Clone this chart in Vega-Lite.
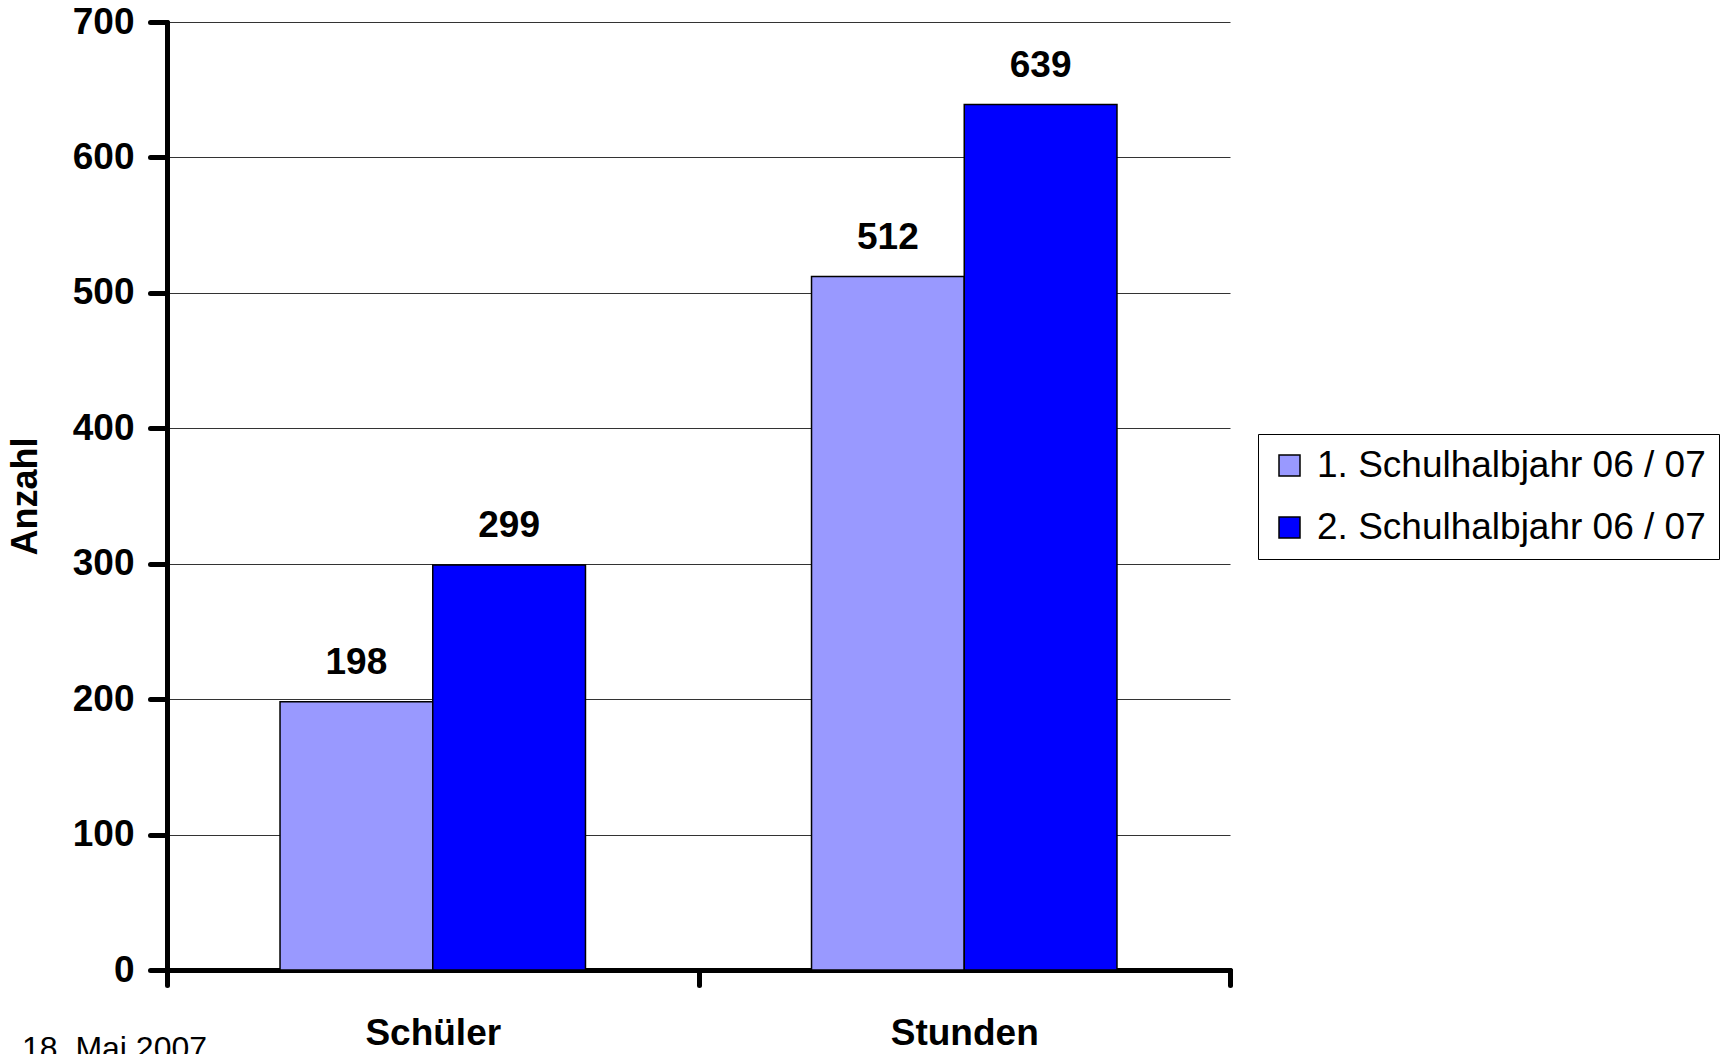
{
  "$schema": "https://vega.github.io/schema/vega-lite/v6.json",
  "autosize": {"type": "none"},
  "padding": {"left": 167, "top": 22, "right": 495, "bottom": 84},
  "width": 1063,
  "height": 948,
  "background": "white",
  "title": {"text": "18. Mai 2007", "orient": "bottom", "anchor": "start", "frame": "group", "dx": -145, "dy": -17, "offset": 0, "fontSize": 32, "fontWeight": "normal", "font": "Liberation Sans", "color": "#000"},
  "data": {"values": [
    {"kategorie": "Schüler", "halbjahr": "1. Schulhalbjahr 06 / 07", "anzahl": 198},
    {"kategorie": "Schüler", "halbjahr": "2. Schulhalbjahr 06 / 07", "anzahl": 299},
    {"kategorie": "Stunden", "halbjahr": "1. Schulhalbjahr 06 / 07", "anzahl": 512},
    {"kategorie": "Stunden", "halbjahr": "2. Schulhalbjahr 06 / 07", "anzahl": 639}
  ]},
  "encoding": {
    "x": {"field": "kategorie", "type": "nominal", "sort": null,
      "scale": {"paddingInner": 0, "paddingOuter": 0},
      "axis": {"title": null, "labelAngle": 0, "labelFontSize": 37, "labelFontWeight": "bold", "labelFont": "Liberation Sans", "labelColor": "#000",
        "domainColor": "#000", "domainWidth": 5, "domainCap": "round", "tickColor": "#000", "tickWidth": 5, "tickCap": "round", "tickSize": 15, "tickBand": "extent", "labelPadding": 30}},
    "xOffset": {"field": "halbjahr", "type": "nominal", "sort": null, "scale": {"paddingInner": 0, "paddingOuter": 0.74}},
    "y": {"field": "anzahl", "type": "quantitative",
      "scale": {"domain": [0, 700], "nice": false},
      "axis": {"title": "Anzahl", "values": [0, 100, 200, 300, 400, 500, 600, 700], "labelFontSize": 37, "labelFontWeight": "bold", "labelFont": "Liberation Sans", "labelColor": "#000",
        "titleFontSize": 36, "titleFontWeight": "bold", "titleFont": "Liberation Sans", "titleColor": "#000", "titlePadding": 28,
        "domainColor": "#000", "domainWidth": 5, "domainCap": "round", "tickColor": "#000", "tickWidth": 5, "tickCap": "round", "tickSize": 17, "labelPadding": 16,
        "grid": true, "gridColor": "#333", "gridWidth": 1}}
  },
  "layer": [
    {"mark": {"type": "bar", "stroke": "#000", "strokeWidth": 1.5},
     "encoding": {"color": {"field": "halbjahr", "type": "nominal",
       "scale": {"domain": ["1. Schulhalbjahr 06 / 07", "2. Schulhalbjahr 06 / 07"], "range": ["#9999FF", "#0000FF"]},
       "legend": {"title": null, "orient": "none", "legendX": 1091, "legendY": 412, "padding": 13, "strokeColor": "#000", "fillColor": "white",
         "symbolType": "square", "symbolSize": 441, "symbolStrokeColor": "#000", "symbolStrokeWidth": 1.5, "symbolOpacity": 1,
         "labelFontSize": 37, "labelFont": "Liberation Sans", "labelColor": "#000", "labelOffset": 9, "rowPadding": 24, "labelLimit": 0}}}},
    {"mark": {"type": "text", "baseline": "alphabetic", "dy": -28, "fontSize": 37, "fontWeight": "bold", "font": "Liberation Sans", "color": "#000"},
     "encoding": {"text": {"field": "anzahl", "type": "quantitative"}}}
  ],
  "config": {"view": {"stroke": null}}
}
